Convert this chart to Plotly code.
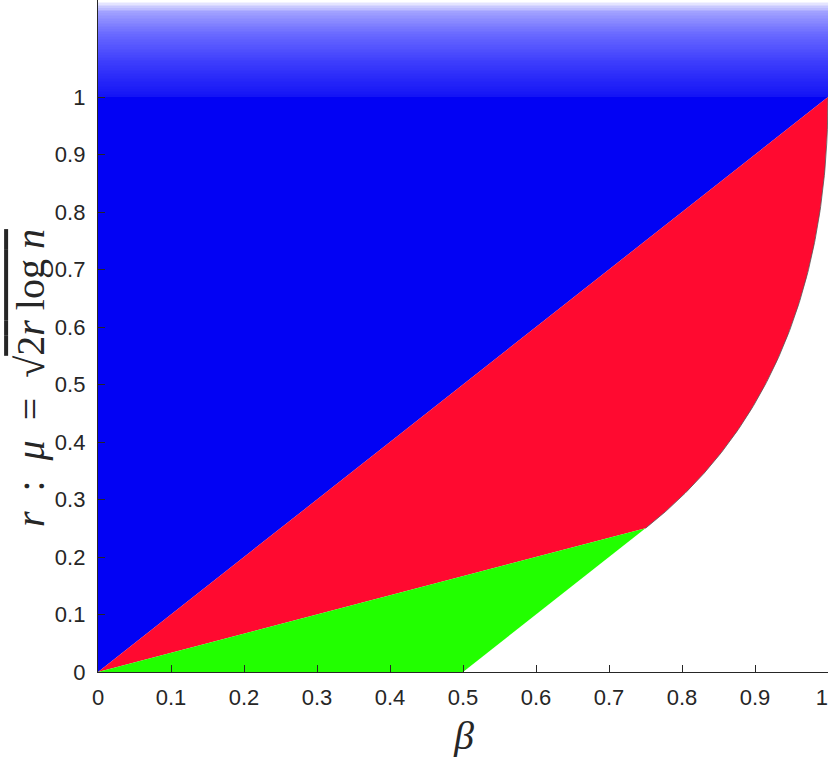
import numpy as np
import plotly.graph_objects as go

# axis ticks
tick_vals = [0, 0.1, 0.2, 0.3, 0.4, 0.5, 0.6, 0.7, 0.8, 0.9, 1]
tick_text = ["0", "0.1", "0.2", "0.3", "0.4", "0.5", "0.6", "0.7", "0.8", "0.9", "1"]

# phase boundaries (beta, r)
beta_curve = np.linspace(0.75, 1.0, 300)
r_curve = (1 - np.sqrt(1 - beta_curve)) ** 2          # r = (1 - sqrt(1 - beta))^2
diag_beta = [0.0, 1.0]                                 # r = beta
diag_r = [0.0, 1.0]
third_beta = [0.0, 0.75]                               # r = beta / 3
third_r = [0.0, 0.25]
half_beta = [0.5, 0.75]                                # r = beta - 1/2
half_r = [0.0, 0.25]
r_top = 1.0
r_max = 1.1687

blue = "#0202f4"
red = "#ff0a30"
green = "#22ff00"
ink = "#262626"

fig = go.Figure()

# gradient band above r = 1
n = 60
yedges = np.linspace(r_top, r_max, n + 1)
zvals = np.linspace(0, 1, n).reshape(n, 1)
fig.add_trace(go.Heatmap(
    x=[0, 1], y=yedges, z=zvals, showscale=False, hoverinfo="skip",
    zmin=0, zmax=1,
    colorscale=[[0, "rgb(20,20,245)"], [0.35, "rgb(60,60,252)"], [0.65, "rgb(105,105,255)"],
                [0.88, "rgb(160,160,255)"], [1, "rgb(255,255,255)"]],
))

# blue region: above r = beta, below r = 1
fig.add_trace(go.Scatter(
    x=[diag_beta[0], diag_beta[1], 0.0], y=[diag_r[0], diag_r[1], r_top],
    fill="toself", fillcolor=blue, mode="lines", line=dict(width=0), hoverinfo="skip"))

# red region
rx = [diag_beta[0], diag_beta[1]] + list(beta_curve[::-1]) + [third_beta[1], third_beta[0]]
ry = [diag_r[0], diag_r[1]] + list(r_curve[::-1]) + [third_r[1], third_r[0]]
fig.add_trace(go.Scatter(x=rx, y=ry, fill="toself", fillcolor=red, mode="lines",
                         line=dict(width=0), hoverinfo="skip"))

# green region
fig.add_trace(go.Scatter(
    x=[third_beta[0], third_beta[1], half_beta[0]], y=[third_r[0], third_r[1], half_r[0]],
    fill="toself", fillcolor=green, mode="lines", line=dict(width=0), hoverinfo="skip"))

# thin boundary along the curve
fig.add_trace(go.Scatter(x=beta_curve, y=r_curve, mode="lines",
                         line=dict(color="#555555", width=0.8), hoverinfo="skip"))

NB = "\u00a0"

axis_common = dict(
    showgrid=False, zeroline=False, showline=True, linecolor=ink, linewidth=1.3,
    ticks="inside", ticklen=7, tickwidth=1.3, tickcolor=ink,
    tickvals=tick_vals,
    tickfont=dict(family="Liberation Sans", size=22, color=ink),
    mirror=False, automargin=False, ticklabeloverflow="allow",
)

# keep the last x label inside the page (reference shows it at the very edge)
x_tick_text = tick_text[:-1] + [tick_text[-1] + NB + NB]

ytitle = (f"<i>r</i>{NB}{NB}:{NB}{NB}<i>μ</i>{NB}{NB}={NB}{NB}√"
          f"<span style='text-decoration:overline'>2<i>r</i>{NB}log{NB}<i>n</i></span>")

fig.update_layout(
    width=830, height=757,
    margin=dict(l=98, r=2, t=0, b=85, autoexpand=False),
    plot_bgcolor="white", paper_bgcolor="white",
    showlegend=False,
    xaxis=dict(range=[0, 1], **axis_common, ticktext=x_tick_text, ticklabelstandoff=5),
    yaxis=dict(range=[0, r_max], **axis_common, ticktext=tick_text, ticklabelstandoff=7),
    annotations=[
        dict(text="<i>β</i>", xref="paper", yref="paper", x=0.5, y=-0.094,
             xanchor="center", yanchor="middle", showarrow=False,
             font=dict(family="Liberation Serif", size=40, color=ink)),
        dict(text=ytitle, xref="paper", yref="paper", x=-0.093, y=0.4375,
             xanchor="center", yanchor="middle", showarrow=False, textangle=-90,
             font=dict(family="Liberation Serif", size=40, color=ink)),
    ],
)

fig.write_html("out.html", config={"displayModeBar": False},
               post_script="document.body.style.margin='0';document.body.style.overflow='hidden';")
